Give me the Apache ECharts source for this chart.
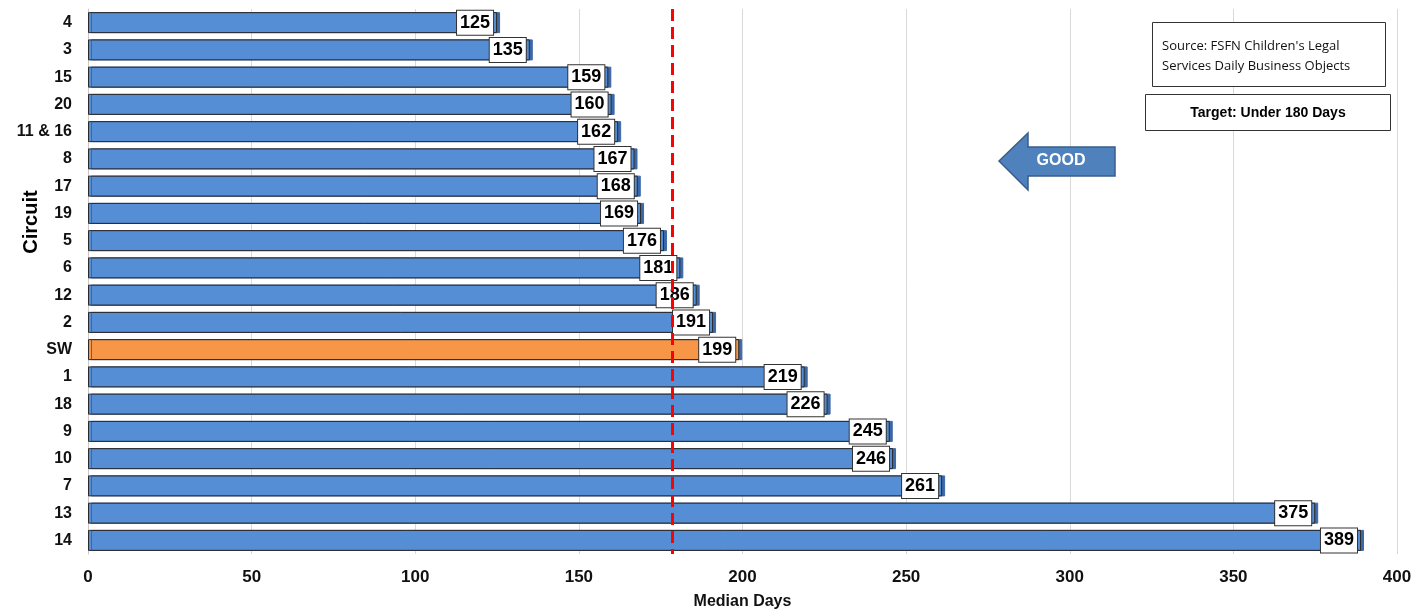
<!DOCTYPE html>
<html><head><meta charset="utf-8">
<script src="https://cdn.jsdelivr.net/npm/echarts@6/dist/echarts.min.js"></script>
<style>html,body{margin:0;padding:0;background:#fff}#c{width:1424px;height:611px}</style>
</head><body><div id="c"></div>
<script>
const categories = ['4','3','15','20','11 & 16','8','17','19','5','6','12','2','SW','1','18','9','10','7','13','14'];
const values = [125,135,159,160,162,167,168,169,176,181,186,191,199,219,226,245,246,261,375,389];
const targetLine = 178.5;
const xTicks = [0,50,100,150,200,250,300,350,400];
const highlight = 'SW';

const chart = echarts.init(document.getElementById('c'));
const F = '"Liberation Sans", Arial, sans-serif';
chart.setOption({
  animation:false,
  grid:{left:88,right:27,top:9,bottom:57,containLabel:false,outerBoundsMode:'none'},
  xAxis:{type:'value',min:xTicks[0],max:xTicks[xTicks.length-1],interval:50,
    name:'Median Days',nameLocation:'middle',nameGap:40,
    nameTextStyle:{fontFamily:F,fontWeight:'bold',fontSize:16,color:'#111'},
    axisLine:{show:false},axisTick:{show:false},
    axisLabel:{fontFamily:F,fontWeight:'bold',fontSize:17,color:'#111',margin:15},
    splitLine:{show:true,lineStyle:{color:'#d9d9d9',width:1}}},
  yAxis:{type:'category',data:categories,inverse:true,
    axisLine:{show:true,lineStyle:{color:'#c8c8c8',width:1}},axisTick:{show:false},
    axisLabel:{fontFamily:F,fontWeight:'bold',fontSize:16,color:'#111',margin:16}},
  series:[{
    type:'bar',barWidth:21,
    data:values.map((v,i)=>({value:v,itemStyle:{color:categories[i]===highlight?'#f79646':'#558ed5'}})),
    itemStyle:{borderColor:'#2b2b2b',borderWidth:1,shadowColor:'#3d68a8',shadowOffsetX:3,shadowOffsetY:0,shadowBlur:0},
    label:{show:true,position:'insideRight',distance:4,fontFamily:F,fontWeight:'bold',fontSize:18,color:'#000',
      backgroundColor:'#ffffff',borderColor:'#333',borderWidth:1,padding:[3,3,2,3],lineHeight:19},
    z:2
  },{
    type:'line',data:[],z:10,
    markLine:{symbol:'none',silent:true,label:{show:false},
      lineStyle:{color:'#ff0000',width:3,type:[12,6]},
      data:[{xAxis:targetLine}]}
  }],
  graphic:[
    {type:'text',x:31,y:222,z:100,rotation:Math.PI/2,style:{text:'Circuit',fontFamily:F,fontWeight:'bold',fontSize:20,fill:'#000',align:'center',verticalAlign:'middle'}},
    {type:'rect',z:100,shape:{x:1152.5,y:22.5,width:233,height:64},style:{fill:'#fff',stroke:'#333',lineWidth:1}},
    {type:'text',z:101,x:1162,y:36,style:{text:"Source: FSFN Children's Legal\nServices Daily Business Objects",fontFamily:'"Open Sans", sans-serif',fontSize:13,lineHeight:20,fill:'#111',verticalAlign:'top'}},
    {type:'rect',z:100,shape:{x:1145.5,y:94.5,width:245,height:36},style:{fill:'#fff',stroke:'#333',lineWidth:1}},
    {type:'text',z:101,x:1268,y:113,style:{text:'Target: Under 180 Days',fontFamily:F,fontWeight:'bold',fontSize:14,fill:'#000',align:'center',verticalAlign:'middle'}},
    {type:'polygon',z:100,shape:{points:[[999,161],[1028,133],[1028,147],[1115,147],[1115,176],[1028,176],[1028,190]]},style:{fill:'#4f81bd',stroke:'#385d8a',lineWidth:1.5}},
    {type:'text',z:101,x:1061,y:161,style:{text:'GOOD',fontFamily:F,fontWeight:'bold',fontSize:16,fill:'#fff',align:'center',verticalAlign:'middle'}}
  ]
});
</script></body></html>
